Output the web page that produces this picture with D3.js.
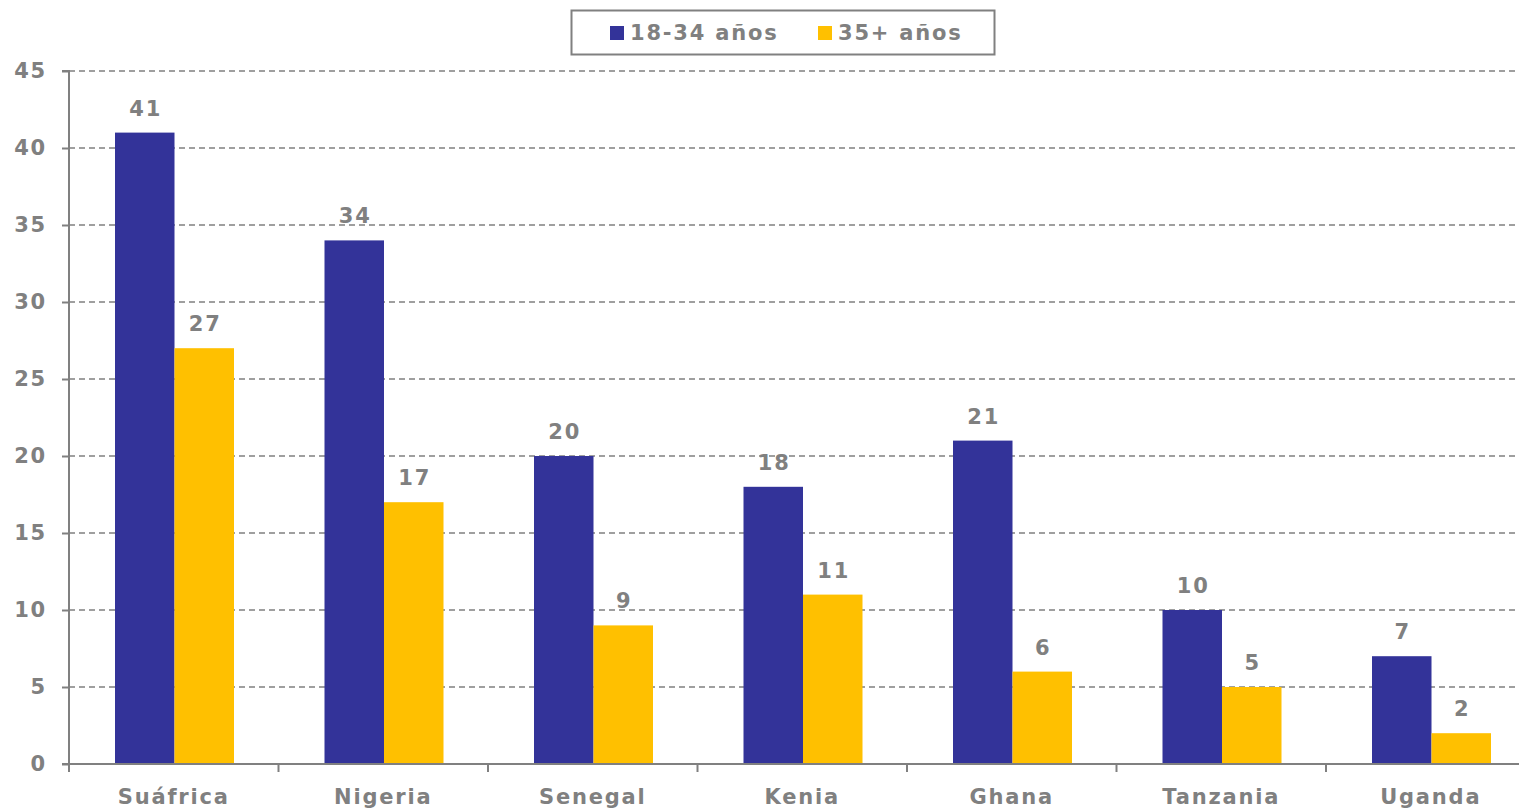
<!DOCTYPE html>
<html><head><meta charset="utf-8">
<script src="https://cdn.jsdelivr.net/npm/d3@7/dist/d3.min.js"></script>
<style>body{margin:0;background:#fff;overflow:hidden}svg{display:block}</style>
</head><body>
<svg id="chart" width="1519" height="808"></svg>
<script>
const categories = ["Suáfrica","Nigeria","Senegal","Kenia","Ghana","Tanzania","Uganda"];
const seriesNames = ["18-34 años","35+ años"];
const young = [41,34,20,18,21,10,7];
const older = [27,17,9,11,6,5,2];
const yTicks = [0,5,10,15,20,25,30,35,40,45];
const colors = ["#333399","#FFC000"];

(function(){
const svg = d3.select("#chart");
const font = "'DejaVu Sans', Verdana, sans-serif";
const gray = "#808080";
const fs = 21, ls = "1.8px";
const pLeft = 69, pBottom = 764, pTop = 71, pRight = 69 + 7*209.5;

const x = d3.scaleBand().domain(categories).range([pLeft, pRight]).paddingInner(0).paddingOuter(0);
const xs = d3.scaleBand().domain(seriesNames).range([46, 46+119]);
const y = d3.scaleLinear().domain([0,45]).range([pBottom, pTop]);

// gridlines
svg.append("g").selectAll("line").data(yTicks.filter(d=>d>0)).join("line")
  .attr("x1", pLeft).attr("x2", 1519).attr("y1", d=>y(d)).attr("y2", d=>y(d))
  .attr("stroke", gray).attr("stroke-width", 1.5).attr("stroke-dasharray", "6,4");

// bars
const data = categories.map((c,i)=>({c, vals:[young[i], older[i]]}));
const g = svg.append("g");
data.forEach(d=>{
  d.vals.forEach((v,j)=>{
    const bx = x(d.c) + xs(seriesNames[j]);
    g.append("rect").attr("x", bx).attr("y", y(v)).attr("width", xs.bandwidth()).attr("height", y(0)-y(v)).attr("fill", colors[j]);
    g.append("text").attr("x", bx + xs.bandwidth()/2 + 1).attr("y", y(v) - 17).attr("text-anchor","middle")
      .attr("font-family", font).attr("font-weight","bold").attr("font-size", fs).attr("letter-spacing", ls).attr("fill", gray).text(v);
  });
});

// y axis
const yAxis = d3.axisLeft(y).tickValues(yTicks).tickSize(7).tickPadding(15).tickFormat(d3.format("d"));
const ya = svg.append("g").attr("transform", `translate(${pLeft},0)`).call(yAxis);
ya.select(".domain").attr("stroke", gray).attr("stroke-width", 2).attr("d", `M-7,${pTop}H0V${pBottom}`);
ya.selectAll(".tick line").attr("stroke", gray).attr("stroke-width", 2);
ya.selectAll(".tick text").attr("fill", gray).attr("font-family", font).attr("font-weight","bold").attr("font-size", fs).attr("letter-spacing", ls).attr("dy","0.3em").attr("text-anchor","end");

// x axis
const xAxis = d3.axisBottom(x).tickSize(0).tickPadding(0);
const xa = svg.append("g").attr("transform", `translate(0,${pBottom})`).call(xAxis);
xa.select(".domain").attr("stroke", gray).attr("stroke-width", 2).attr("d", `M${pLeft-7},0H${pRight}`);
xa.selectAll(".tick text").attr("fill", gray).attr("font-family", font).attr("font-weight","bold").attr("font-size", fs).attr("letter-spacing", ls).attr("y", 40).attr("dy", 0);
// category separator ticks
svg.append("g").selectAll("line").data(d3.range(categories.length+1)).join("line")
  .attr("x1", i=>pLeft + i*x.bandwidth()).attr("x2", i=>pLeft + i*x.bandwidth())
  .attr("y1", pBottom).attr("y2", pBottom+8).attr("stroke", gray).attr("stroke-width", 2);

// legend
const lg = svg.append("g");
lg.append("rect").attr("x", 571.5).attr("y", 10.5).attr("width", 423).attr("height", 44).attr("fill","#fff").attr("stroke", gray).attr("stroke-width", 2);
const legX = [610, 818];
seriesNames.forEach((s,j)=>{
  lg.append("rect").attr("x", legX[j]).attr("y", 26).attr("width", 14).attr("height", 14).attr("fill", colors[j]);
  lg.append("text").attr("x", legX[j]+20).attr("y", 40).attr("font-family", font).attr("font-weight","bold").attr("font-size", fs).attr("letter-spacing", ls).attr("fill", gray).text(s);
});
})();
</script>
</body></html>
